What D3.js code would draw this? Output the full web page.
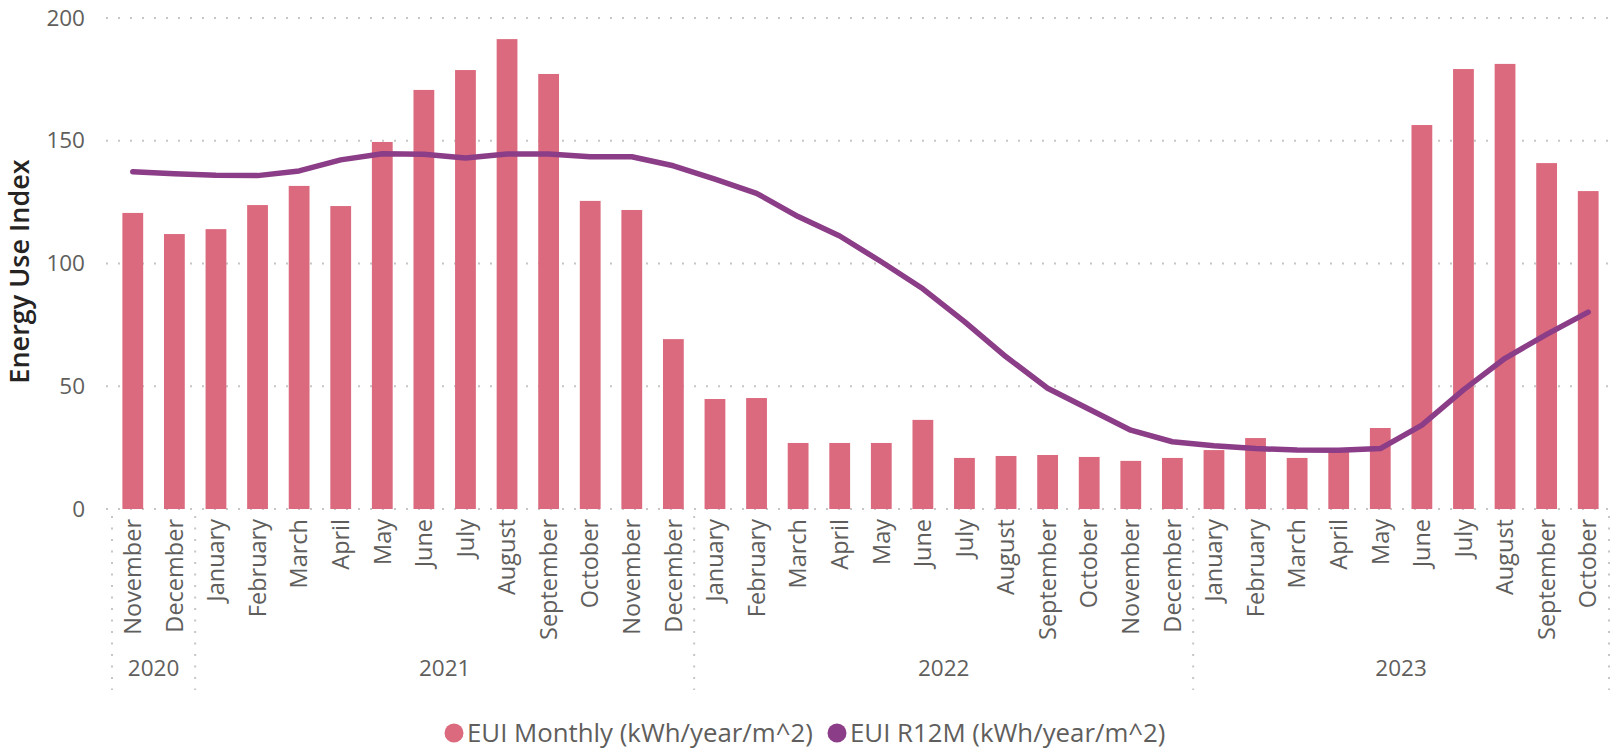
<!DOCTYPE html>
<html>
<head>
<meta charset="utf-8">
<script src="https://cdn.jsdelivr.net/npm/d3@7"></script>
<style>
  html, body { margin: 0; padding: 0; background: #fff; }
  svg { display: block; font-family: "Segoe UI", "Open Sans", sans-serif; }
</style>
</head>
<body>
<svg id="chart" width="1622" height="754"></svg>
<script>
// Energy Use Index: monthly bars + rolling 12 month line
const months = [
  "November", "December",
  "January", "February", "March", "April", "May", "June", "July", "August", "September", "October", "November", "December",
  "January", "February", "March", "April", "May", "June", "July", "August", "September", "October", "November", "December",
  "January", "February", "March", "April", "May", "June", "July", "August", "September", "October"
];
const years = ["2020", "2021", "2022", "2023"];
const monthsPerYear = [2, 12, 12, 10];

const euiMonthly = [
  120.6, 112.0,
  114.0, 123.8, 131.6, 123.4, 149.5, 170.7, 178.8, 191.4, 177.2, 125.5, 121.8, 69.2,
  44.8, 45.2, 26.9, 26.9, 26.9, 36.3, 20.8, 21.6, 22.0, 21.2, 19.6, 20.8,
  24.0, 28.9, 20.8, 24.5, 33.0, 156.4, 179.2, 181.3, 140.9, 129.5
];
const euiR12M = [
  137.4, 136.6,
  135.9, 135.8, 137.7, 142.2, 144.7, 144.5, 143.0, 144.6, 144.6, 143.5, 143.5, 139.8,
  134.4, 128.6, 119.1, 111.2, 100.7, 89.7, 76.3, 62.0, 49.2, 40.6, 32.1, 27.4,
  25.8, 24.6, 24.0, 23.9, 24.6, 34.2, 48.5, 61.4, 71.1, 80.2
];
const yTicks = [0, 50, 100, 150, 200];
const seriesNames = ["EUI Monthly (kWh/year/m^2)", "EUI R12M (kWh/year/m^2)"];

const barColor = "#DC6A7E";
const lineColor = "#8C3D87";
const gridColor = "#C8C6C4";
const textColor = "#605E5C";

const svg = d3.select("#chart");
const plotLeft = 112, plotRight = 1609, plotTop = 18, plotBottom = 509;

const x = d3.scaleBand()
  .domain(d3.range(months.length))
  .range([plotLeft, plotRight])
  .paddingInner(0.5)
  .paddingOuter(0.25);

const y = d3.scaleLinear()
  .domain([0, 200])
  .range([plotBottom, plotTop]);

// Dotted horizontal gridlines
svg.append("g")
  .selectAll("line")
  .data(yTicks)
  .enter().append("line")
  .attr("x1", plotLeft - 6)
  .attr("x2", plotRight)
  .attr("y1", (d) => y(d))
  .attr("y2", (d) => y(d))
  .attr("stroke", gridColor)
  .attr("stroke-width", 2)
  .attr("stroke-dasharray", "2,10");

// Y axis labels
const yAxis = svg.append("g")
  .attr("transform", `translate(${plotLeft - 27},0)`)
  .call(d3.axisLeft(y).tickValues(yTicks).tickSize(0).tickPadding(0));
yAxis.select(".domain").remove();
yAxis.selectAll("text")
  .attr("fill", textColor)
  .style("font-size", "22.5px")
  .style("font-family", "\"Segoe UI\", \"Open Sans\", sans-serif");

// Y axis title
svg.append("text")
  .attr("transform", `translate(29,${(plotTop + plotBottom) / 2 + 8}) rotate(-90)`)
  .attr("text-anchor", "middle")
  .attr("fill", "#252423")
  .style("font-size", "27px")
  .style("font-weight", 600)
  .text("Energy Use Index");

// Bars
svg.append("g")
  .selectAll("rect")
  .data(euiMonthly)
  .enter().append("rect")
  .attr("x", (d, i) => x(i))
  .attr("y", (d) => y(d))
  .attr("width", x.bandwidth())
  .attr("height", (d) => y(0) - y(d))
  .attr("fill", barColor);

// R12M line
const line = d3.line()
  .x((d, i) => x(i) + x.bandwidth() / 2)
  .y((d) => y(d));

svg.append("path")
  .datum(euiR12M)
  .attr("d", line)
  .attr("fill", "none")
  .attr("stroke", lineColor)
  .attr("stroke-width", 5.5)
  .attr("stroke-linecap", "round")
  .attr("stroke-linejoin", "round");

// Month labels (rotated)
svg.append("g")
  .selectAll("text")
  .data(months)
  .enter().append("text")
  .attr("transform", (d, i) => `translate(${x(i) + x.bandwidth() / 2},519) rotate(-90)`)
  .attr("text-anchor", "end")
  .attr("dy", "0.35em")
  .attr("fill", textColor)
  .style("font-size", "23.5px")
  .text((d) => d);

// Year groups with dotted dividers
const step = x.step();
const gap = (step - x.bandwidth()) / 2;
let offset = 0;
const yearSpans = years.map((yr, k) => {
  const i0 = offset;
  offset += monthsPerYear[k];
  const x0 = k === 0 ? plotLeft : x(i0) - gap;
  const x1 = k === years.length - 1 ? plotRight : x(offset) - gap;
  return { yr, x0, x1 };
});

const dividers = [plotLeft].concat(yearSpans.map((s) => s.x1));
svg.append("g")
  .selectAll("line")
  .data(dividers)
  .enter().append("line")
  .attr("x1", (d) => d)
  .attr("x2", (d) => d)
  .attr("y1", 516)
  .attr("y2", 690)
  .attr("stroke", gridColor)
  .attr("stroke-width", 2)
  .attr("stroke-dasharray", "2,9.5");

svg.append("g")
  .selectAll("text")
  .data(yearSpans)
  .enter().append("text")
  .attr("x", (d) => (d.x0 + d.x1) / 2)
  .attr("y", 668)
  .attr("dy", "0.35em")
  .attr("text-anchor", "middle")
  .attr("fill", textColor)
  .style("font-size", "22.5px")
  .text((d) => d.yr);

// Legend
const legend = svg.append("g");
const legendItems = [
  { name: seriesNames[0], color: barColor, cx: 454 },
  { name: seriesNames[1], color: lineColor, cx: 837 }
];
legendItems.forEach((item) => {
  legend.append("circle")
    .attr("cx", item.cx)
    .attr("cy", 733)
    .attr("r", 9.5)
    .attr("fill", item.color);
  legend.append("text")
    .attr("x", item.cx + 13)
    .attr("y", 733)
    .attr("dy", "0.35em")
    .attr("fill", textColor)
    .style("font-size", "25.8px")
    .text(item.name);
});
</script>
</body>
</html>
